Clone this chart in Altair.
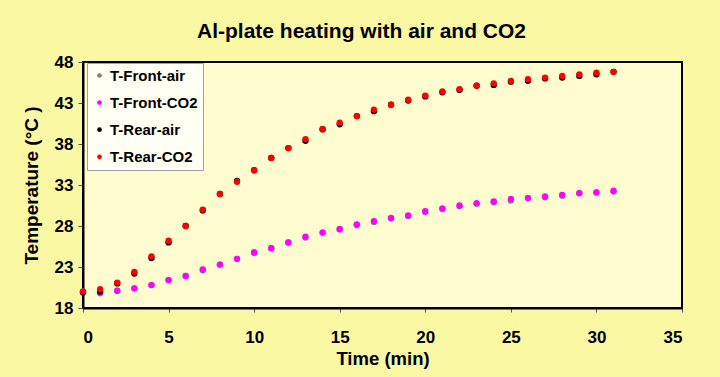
import altair as alt
import pandas as pd

time_min = list(range(32))
t_front_air = [20.0, 19.8, 20.1, 20.4, 20.8, 21.4, 21.9, 22.6, 23.3, 24.0, 24.7, 25.3, 26.0, 26.6, 27.2, 27.6,
               28.1, 28.5, 28.9, 29.2, 29.7, 30.1, 30.4, 30.7, 30.9, 31.1, 31.4, 31.5, 31.7, 32.0, 32.1, 32.2]
t_front_co2 = [20.0, 19.9, 20.1, 20.4, 20.8, 21.4, 21.9, 22.7, 23.3, 24.0, 24.8, 25.3, 26.0, 26.7, 27.2, 27.6,
               28.2, 28.6, 29.0, 29.3, 29.8, 30.1, 30.5, 30.8, 31.0, 31.3, 31.4, 31.6, 31.8, 32.0, 32.1, 32.3]
t_rear_air = [19.9, 20.0, 21.0, 22.2, 24.1, 26.0, 28.0, 29.9, 31.9, 33.5, 34.8, 36.3, 37.5, 38.4, 39.8, 40.4,
              41.4, 42.0, 42.8, 43.3, 43.8, 44.3, 44.6, 45.1, 45.2, 45.6, 45.7, 46.0, 46.1, 46.3, 46.5, 46.8]
t_rear_co2 = [20.0, 20.3, 21.1, 22.4, 24.3, 26.2, 28.0, 30.0, 31.9, 33.4, 34.8, 36.3, 37.5, 38.6, 39.8, 40.6,
              41.4, 42.2, 42.8, 43.4, 43.9, 44.4, 44.7, 45.1, 45.4, 45.7, 45.9, 46.1, 46.3, 46.5, 46.7, 46.8]

series_names = ["T-Front-air", "T-Front-CO2", "T-Rear-air", "T-Rear-CO2"]
series_colors = ["#808080", "#FF00FF", "#000000", "#FF0000"]
series_values = [t_front_air, t_front_co2, t_rear_air, t_rear_co2]

x_ticks = [0, 5, 10, 15, 20, 25, 30, 35]
y_ticks = [18, 23, 28, 33, 38, 43, 48]

rows = []
for k, (name, vals) in enumerate(zip(series_names, series_values)):
    for t, v in zip(time_min, vals):
        rows.append({"Time": t, "Temp": v, "Series": name, "k": k})
df = pd.DataFrame(rows)

FONT = "Liberation Sans"

chart = alt.Chart(df).mark_circle(size=40, opacity=1).encode(
    x=alt.X("Time:Q",
            scale=alt.Scale(domain=[0, 35], nice=False),
            axis=alt.Axis(values=x_ticks, title="Time (min)", grid=False,
                          labelFontSize=17, labelFontWeight="bold", labelFont=FONT,
                          labelColor="black", labelPadding=17,
                          tickSize=4, tickColor="#555555",
                          titleFontSize=18.5, titleFontWeight="bold", titleFont=FONT,
                          titleColor="black", titlePadding=4,
                          domainColor="black", domainWidth=2)),
    y=alt.Y("Temp:Q",
            scale=alt.Scale(domain=[18, 48], nice=False, zero=False),
            axis=alt.Axis(values=y_ticks, title="Temperature (°C )", grid=False,
                          labelFontSize=17, labelFontWeight="bold", labelFont=FONT,
                          labelColor="black", labelPadding=5,
                          tickSize=5, tickColor="#555555",
                          titleFontSize=19, titleFontWeight="bold", titleFont=FONT,
                          titleColor="black", titlePadding=13,
                          domainColor="black", domainWidth=2)),
    color=alt.Color("Series:N",
                    scale=alt.Scale(domain=series_names, range=series_colors),
                    legend=alt.Legend(title=None, orient="none", legendX=4, legendY=1,
                                      labelFontSize=15, labelFontWeight="bold", labelFont=FONT,
                                      labelColor="black", symbolType="circle", symbolSize=22,
                                      symbolStrokeWidth=0, rowPadding=11.1, padding=5,
                                      labelOffset=3, symbolOffset=0,
                                      fillColor="#FFFFF4", strokeColor="#A0A0A0")),
    order=alt.Order("k:Q"),
).properties(
    width=599,
    height=246,
    title=alt.TitleParams("Al-plate heating with air and CO2", fontSize=21, fontWeight="bold",
                          font=FONT, color="black", anchor="middle", frame="group",
                          dx=-21, offset=11),
    background="#FBF8A4",
    padding={"left": 83, "top": 62, "right": 38, "bottom": 69},
    autosize=alt.AutoSizeParams(type="none"),
).configure_view(
    fill="#FFFDCF", stroke="black", strokeWidth=2
)

chart.save("out.html", embed_options={"renderer": "svg", "actions": False})
